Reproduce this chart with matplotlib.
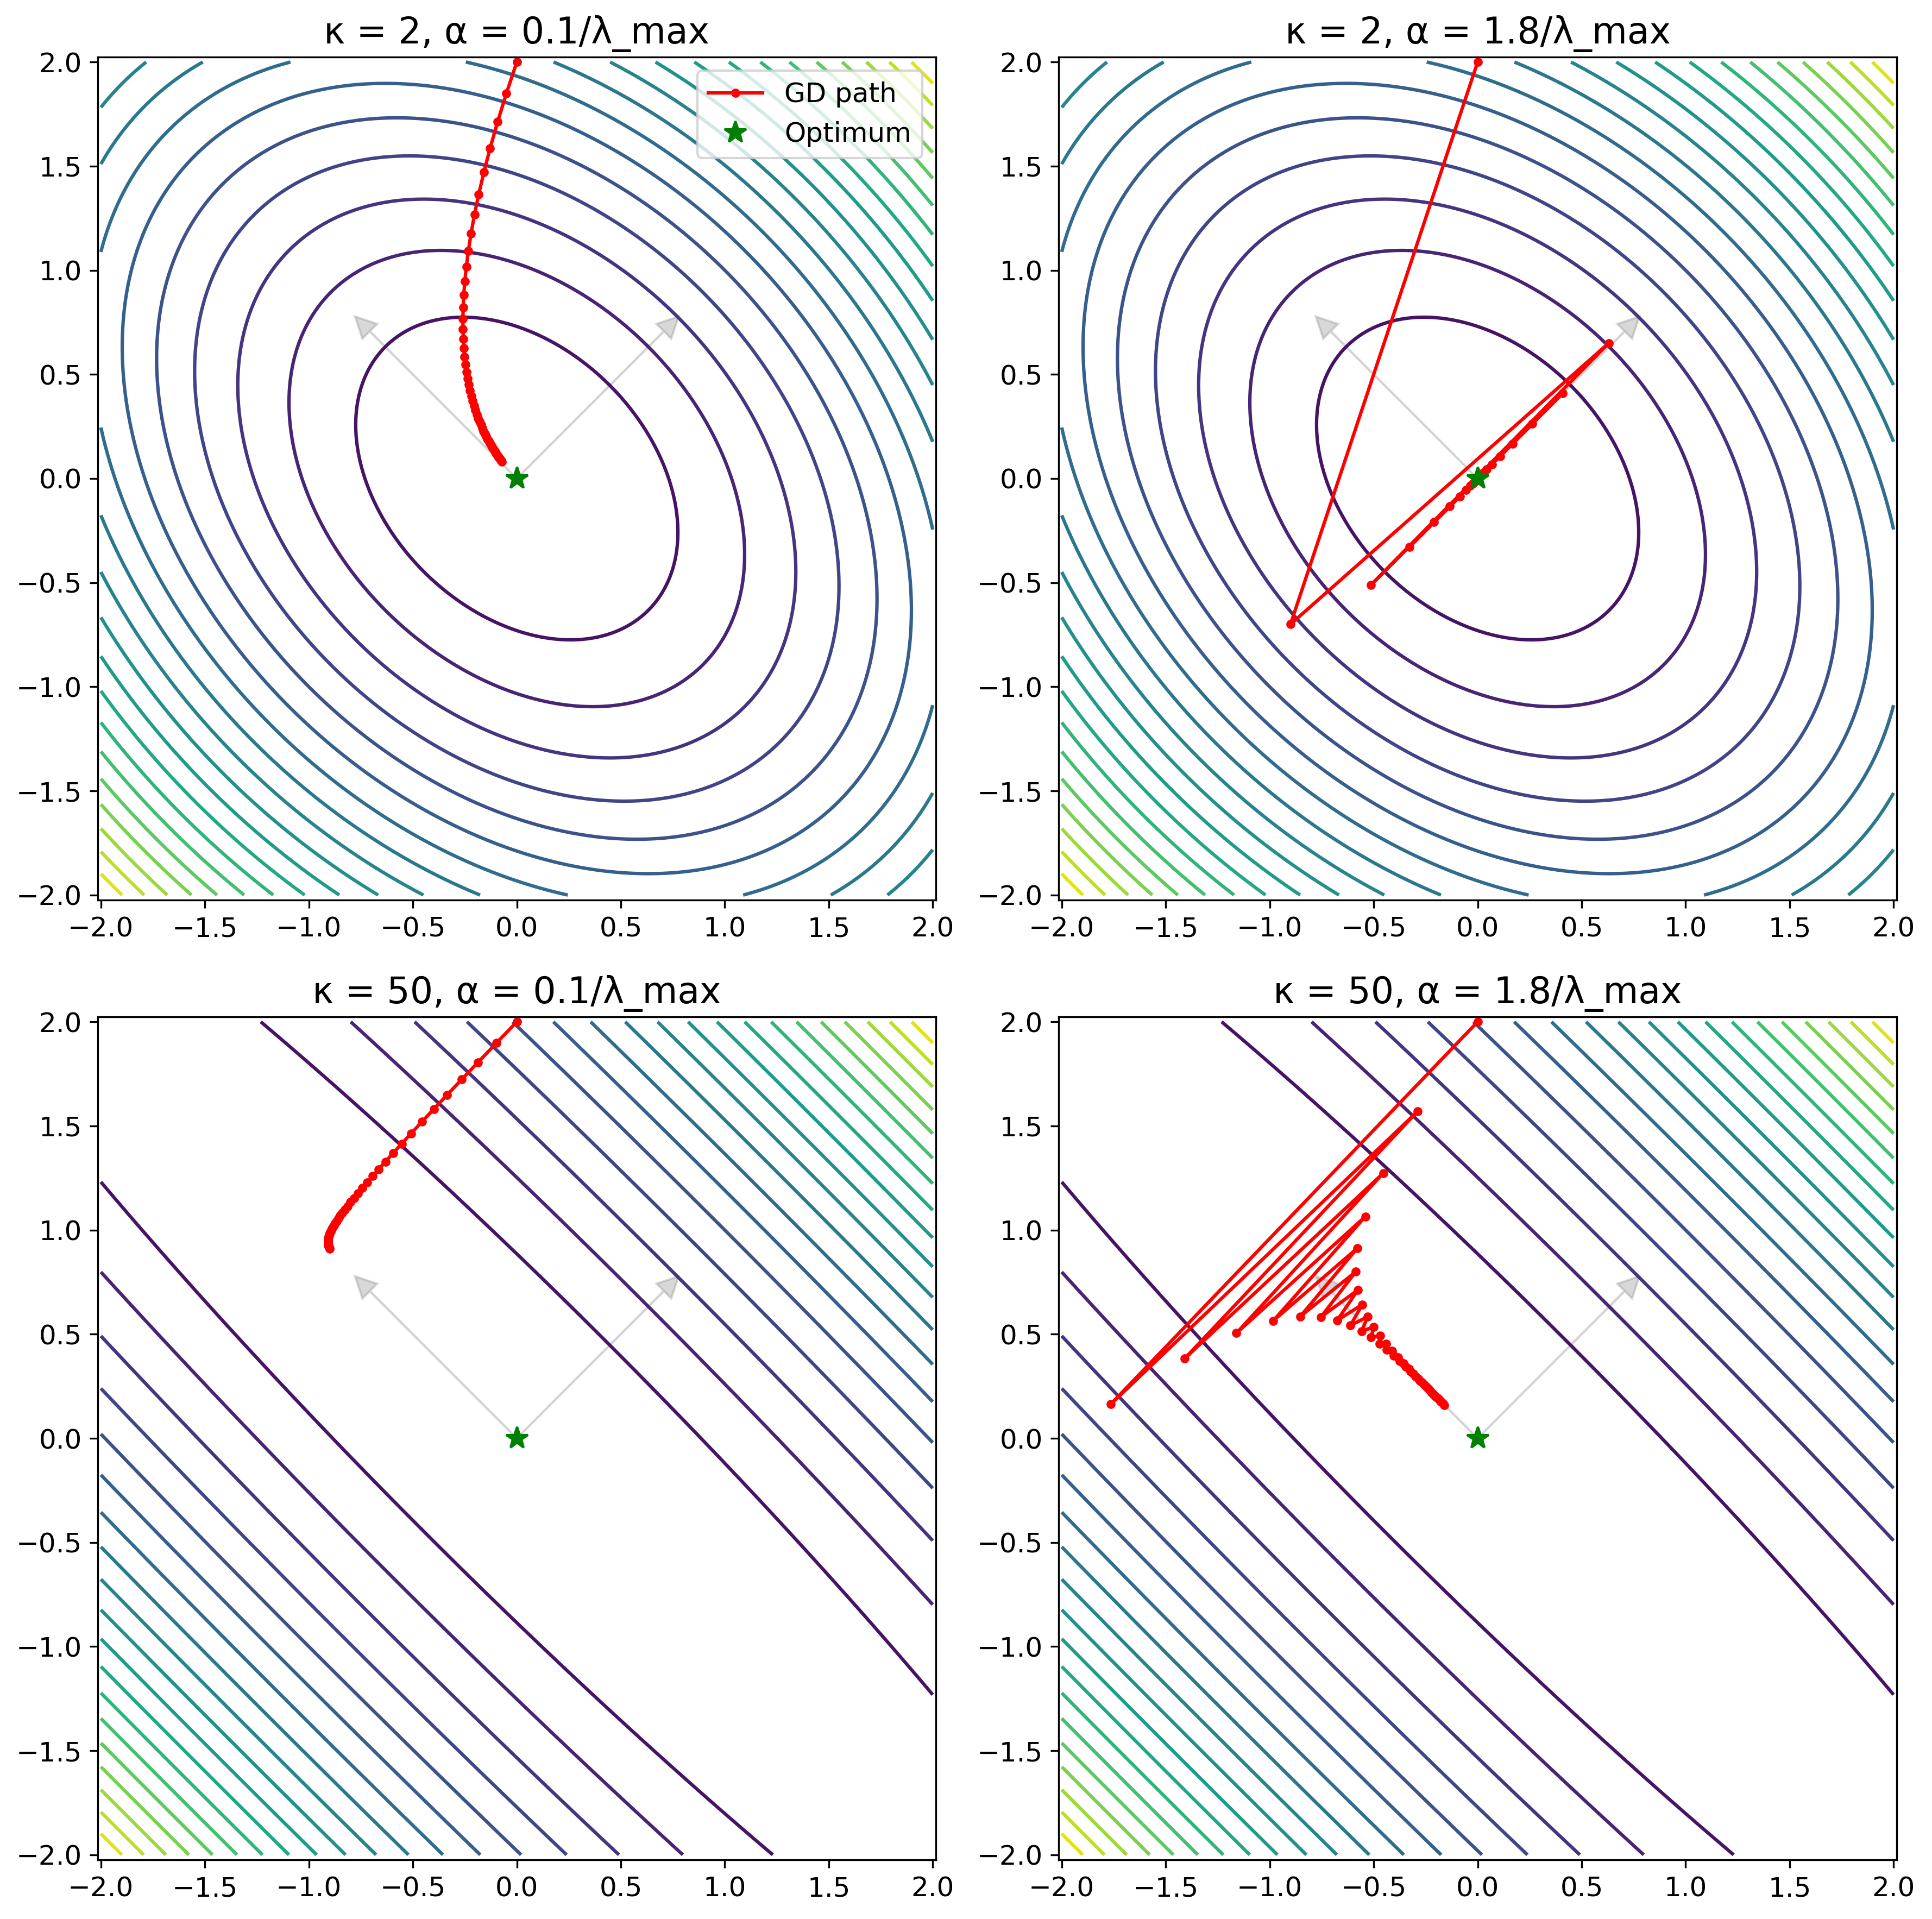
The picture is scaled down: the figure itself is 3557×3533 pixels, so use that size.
import numpy as np
import matplotlib
matplotlib.use("Agg")
import matplotlib.pyplot as plt

# -----------------------------
# Settings
# -----------------------------
kappas = [2, 50]                 # condition numbers, one per row
step_factors = [0.1, 1.8]        # alpha = factor / lambda_max, one per column
step_labels = ["0.1", "1.8"]
start_point = [0.0, 2.0]         # GD starts here
n_iters = 50
eig_angle_deg = 45               # lambda_max direction
n_levels = 20
grid_lim = 2.0

plt.rcParams["font.size"] = 12

# -----------------------------
# Helpers
# -----------------------------
theta = np.deg2rad(eig_angle_deg)
v_max = np.array([np.cos(theta), np.sin(theta)])
v_min = np.array([-np.sin(theta), np.cos(theta)])


def hessian(kappa):
    # lambda_max = kappa along v_max, lambda_min = 1 along v_min
    return kappa * np.outer(v_max, v_max) + 1.0 * np.outer(v_min, v_min)


def gd_path(A, alpha):
    x = np.array(start_point)
    pts = [x.copy()]
    for _ in range(n_iters):
        x = x - alpha * A @ x
        pts.append(x.copy())
    return np.array(pts)


g = np.linspace(-grid_lim, grid_lim, 401)
X, Y = np.meshgrid(g, g)

# -----------------------------
# Figure
# -----------------------------
W, H = 3557, 3533
fig = plt.figure(figsize=(W / 300, H / 300), dpi=300)

col_left = [180, 1949]
row_top = [105, 1872]
ax_w, ax_h = 1543, 1552

for r, kappa in enumerate(kappas):
    A = hessian(kappa)
    Z = 0.5 * (A[0, 0] * X**2 + 2 * A[0, 1] * X * Y + A[1, 1] * Y**2)
    levels = np.linspace(0, Z.max(), n_levels + 1)[1:-1]
    lam_max = kappa

    for c, fac in enumerate(step_factors):
        ax = fig.add_axes([col_left[c] / W, 1 - (row_top[r] + ax_h) / H,
                           ax_w / W, ax_h / H])
        ax.contour(X, Y, Z, levels=levels, cmap="viridis",
                   vmin=0, vmax=Z.max(), linewidths=1.5)

        # eigenvector arrows
        for v in (v_max, v_min):
            ax.arrow(0, 0, v[0], v[1], head_width=0.1, head_length=0.1,
                     fc="gray", ec="gray", alpha=0.3)

        path = gd_path(A, fac / lam_max)
        ax.plot(path[:, 0], path[:, 1], "r-", marker="o", ms=3, label="GD path")
        ax.plot(0, 0, "g*", ms=10, label="Optimum")

        ax.set_title(f"κ = {kappa}, α = {step_labels[c]}/λ_max", fontsize=16)
        ax.set_xlim(-2.015, 2.015)
        ax.set_ylim(-2.024, 2.024)
        ax.set_xticks(np.arange(-2, 2.01, 0.5))
        ax.set_yticks(np.arange(-2, 2.01, 0.5))

        if r == 0 and c == 0:
            ax.legend(loc="upper right")

plt.savefig("out.png", dpi=300)
